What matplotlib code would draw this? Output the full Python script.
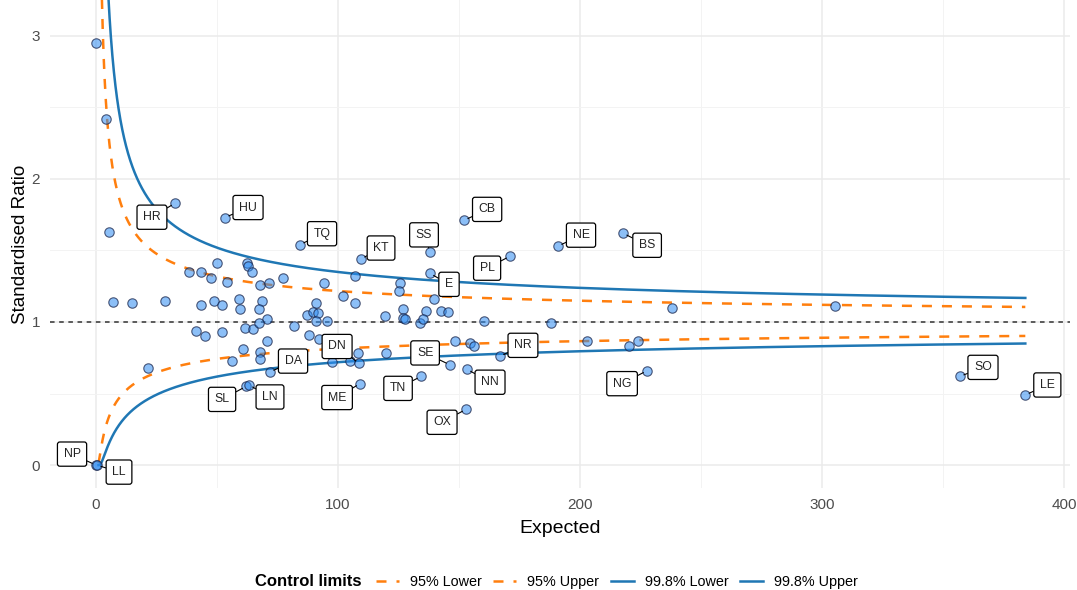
import numpy as np
import matplotlib
matplotlib.use('Agg')
import matplotlib.pyplot as plt
from matplotlib.lines import Line2D

plt.rcParams['font.family'] = ['Liberation Sans', 'DejaVu Sans']

# unlabelled units: expected count and standardised ratio
expected = [0.0, 4.1, 5.4, 7.0, 14.9, 28.5, 21.5, 38.4, 43.4, 47.5, 50.0, 41.3, 45.0,
            43.4, 48.8, 52.1, 52.1, 54.1, 62.4, 62.8, 64.5, 67.8, 71.5, 77.3, 94.2,
            59.1, 59.5, 68.6, 67.4, 70.7, 61.6, 64.9, 67.4, 70.7, 81.8, 90.9, 87.2,
            89.7, 91.7, 90.9, 95.5, 88.0, 92.1, 60.7, 56.2, 67.8, 67.8, 107.0, 125.6,
            125.2, 102.1, 139.7, 107.0, 119.4, 126.9, 126.9, 127.7, 136.4, 142.6, 145.5,
            133.9, 135.1, 108.3, 119.8, 97.5, 105.0, 148.3, 154.5, 156.2, 160.3, 188.0,
            202.9, 220.2, 224.0, 238.0, 305.3]
ratio = [2.95, 2.42, 1.63, 1.14, 1.13, 1.15, 0.68, 1.35, 1.35, 1.31, 1.41, 0.94, 0.90,
         1.12, 1.15, 1.12, 0.93, 1.28, 1.41, 1.39, 1.35, 1.26, 1.27, 1.31, 1.27,
         1.16, 1.09, 1.15, 1.09, 1.02, 0.96, 0.95, 0.99, 0.87, 0.97, 1.13, 1.05,
         1.07, 1.06, 1.01, 1.01, 0.91, 0.88, 0.81, 0.73, 0.79, 0.74, 1.32, 1.27,
         1.22, 1.18, 1.16, 1.13, 1.04, 1.09, 1.03, 1.02, 1.08, 1.08, 1.07,
         0.99, 1.02, 0.78, 0.78, 0.72, 0.73, 0.87, 0.85, 0.83, 1.01, 0.99,
         0.87, 0.83, 0.87, 1.10, 1.11]

# labelled (outlying) units
lab_names = ['NP', 'LL', 'HR', 'HU', 'TQ', 'KT', 'SS', 'CB', 'NE', 'BS', 'PL', 'E',
             'NR', 'NN', 'SE', 'NG', 'OX', 'TN', 'ME', 'DN', 'DA', 'SL', 'LN', 'SO', 'LE']
lab_expected = [0.0, 0.4, 32.6, 53.3, 84.3, 109.5, 138.0, 152.1, 190.9, 217.8, 171.1, 138.0,
                166.9, 153.3, 146.3, 227.7, 152.9, 134.3, 109.1, 108.7, 71.9, 62.0, 63.2,
                357.0, 384.0]
lab_ratio = [0.0, 0.0, 1.83, 1.73, 1.54, 1.44, 1.49, 1.71, 1.53, 1.62, 1.46, 1.34,
             0.76, 0.67, 0.70, 0.66, 0.39, 0.62, 0.57, 0.71, 0.65, 0.55, 0.56, 0.62, 0.49]

# where each label box sits relative to its point (pixels)
lab_offsets = {'NP': (-24, 11), 'LL': (22, -7), 'HR': (-23, -14), 'HU': (23, 10),
               'TQ': (22, 11), 'KT': (20, 11), 'SS': (-6, 17), 'CB': (23, 11),
               'NE': (23, 11), 'BS': (24, -12), 'PL': (-23, -12), 'E': (19, -11),
               'NR': (23, 11), 'NN': (23, -13), 'SE': (-25, 12), 'NG': (-25, -13),
               'OX': (-24, -13), 'TN': (-23, -12), 'ME': (-23, -14), 'DN': (-22, 17),
               'DA': (23, 11), 'SL': (-24, -13), 'LN': (21, -12), 'SO': (23, 9),
               'LE': (22, 10)}

Z95 = 1.959964
Z998 = 3.090232


def chi2_q(z, k):
    # Wilson-Hilferty approximation of a chi-square quantile
    h = 2.0 / (9.0 * k)
    return k * np.clip(1 - h + z * np.sqrt(h), 0, None) ** 3


all_exp = np.array(expected + lab_expected)
e_seq = np.linspace(1, all_exp.max(), 3000)
ll95 = chi2_q(-Z95, 2 * e_seq) / (2 * e_seq)
ul95 = chi2_q(Z95, 2 * e_seq + 2) / (2 * e_seq)
ll998 = chi2_q(-Z998, 2 * e_seq) / (2 * e_seq)
ul998 = chi2_q(Z998, 2 * e_seq + 2) / (2 * e_seq)

W, H = 1077, 590
fig = plt.figure(figsize=(W / 100, H / 100), dpi=100)
ax = fig.add_axes([49.7 / W, 1 - 488 / H, (1069.6 - 49.7) / W, 488 / H])

orange = '#FF7F0E'
blue = '#1F77B4'
dash = (0, (4, 4))

ax.plot(e_seq, ll95, color=orange, lw=1.8, ls=dash, zorder=2)
ax.plot(e_seq, ul95, color=orange, lw=1.8, ls=dash, zorder=2)
ax.plot(e_seq, ll998, color=blue, lw=1.8, zorder=2)
ax.plot(e_seq, ul998, color=blue, lw=1.8, zorder=2)
ax.axhline(1, color='#333333', lw=1.1, ls=(0, (3, 3)), zorder=1.5)

pt_face = (0.18, 0.55, 0.95, 0.55)
pt_edge = (0.1, 0.15, 0.3, 0.75)
ax.scatter(expected, ratio, s=46, facecolor=pt_face, edgecolor=pt_edge, lw=0.8, zorder=3)
ax.scatter(lab_expected, lab_ratio, s=46, facecolor=pt_face, edgecolor=pt_edge, lw=0.8, zorder=3)

for name, x, y in zip(lab_names, lab_expected, lab_ratio):
    dx, dy = lab_offsets[name]
    ax.annotate(name, (x, y), xytext=(dx, dy), textcoords='offset pixels',
                ha='center', va='center', fontsize=8.8, color='#222222', zorder=5,
                bbox=dict(boxstyle='round,pad=0.5,rounding_size=0.2', fc='white',
                          ec='black', lw=0.9),
                arrowprops=dict(arrowstyle='-', color='black', lw=0.8,
                                shrinkA=0, shrinkB=3),
                annotation_clip=False)

ax.set_xlim(-19.15, 402.3)
ax.set_ylim(-0.16, 3.25)
ax.set_xticks([0, 100, 200, 300, 400])
ax.set_xticks([50, 150, 250, 350], minor=True)
ax.set_yticks([0, 1, 2, 3])
ax.set_yticks([0.5, 1.5, 2.5], minor=True)
ax.grid(which='major', color='#ebebeb', lw=1.1, zorder=0)
ax.grid(which='minor', color='#f3f3f3', lw=0.7, zorder=0)
ax.set_axisbelow(True)
for s in ax.spines.values():
    s.set_visible(False)
ax.tick_params(which='both', length=0, labelsize=11, labelcolor='#4d4d4d')
ax.tick_params(axis='x', pad=7)
ax.tick_params(axis='y', pad=7)
ax.set_xlabel('Expected', fontsize=14, color='black', labelpad=6)
ax.set_ylabel('Standardised Ratio', fontsize=13.5, color='black', labelpad=2)

fig.text(255 / W, 1 - 582 / H, 'Control limits', fontsize=12, fontweight='bold', va='center')
handles = [Line2D([], [], color=orange, lw=1.8, ls=dash),
           Line2D([], [], color=orange, lw=1.8, ls=dash),
           Line2D([], [], color=blue, lw=1.8),
           Line2D([], [], color=blue, lw=1.8)]
fig.legend(handles, ['95% Lower', '95% Upper', '99.8% Lower', '99.8% Upper'],
           loc='center left', bbox_to_anchor=(376 / W, 1 - 582 / H), ncol=4,
           frameon=False, fontsize=10.4, handlelength=1.6, handletextpad=0.75,
           columnspacing=0.8, borderpad=0, borderaxespad=0)

fig.savefig('out.png', dpi=100)
